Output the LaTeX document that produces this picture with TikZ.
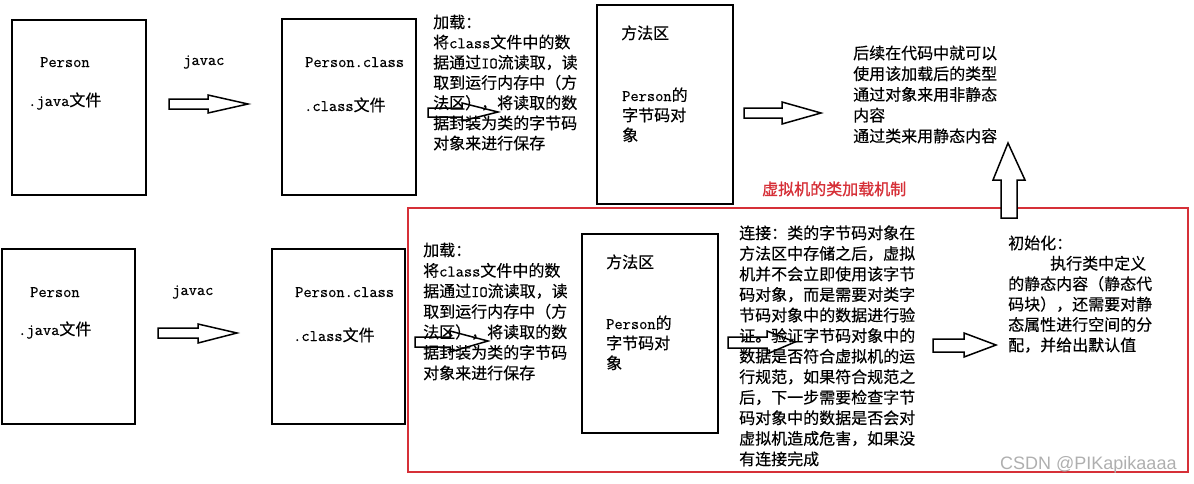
\documentclass[tikz,border=0pt]{standalone}
\usepackage{fontspec}
\newfontfamily\cjk[FakeBold=0.35]{Noto Sans CJK SC}
\newfontfamily\cjkbold[FakeBold=1.2]{Noto Sans CJK SC}
\newfontfamily\latf[FakeBold=0.6]{Latin Modern Mono}
\newfontfamily\wmfont{Liberation Sans}
\newcommand\mylat[1]{{\latf #1}}
\definecolor{redbox}{RGB}{214,48,56}
\definecolor{wmgray}{RGB}{175,175,175}
\begin{document}
\begin{tikzpicture}[x=1pt,y=-1pt,
  box/.style={draw=black,line width=2pt,inner sep=0pt},
  txt/.style={anchor=base west,inner sep=0pt,align=left,font=\cjk\fontsize{16}{20.5}\selectfont},
  barrow/.style={draw=black,line width=1.5pt,fill=white,line join=miter}]
\useasboundingbox (0,0) rectangle (1194,483);
% red frame
\node[draw=redbox,line width=1.6pt,minimum width=780,minimum height=264,inner sep=0pt] (frame) at (798,340) {};
% ---------- top row ----------
\node[box,minimum width=134,minimum height=175] (javaA) at (79,107.5) {};
\node[txt] (javaA1) at (40,67) {\mylat{Person}};
\node[txt] (javaA2) at (28,106) {\mylat{.java}文件};
\node[txt] (javacA) at (183,65) {\mylat{javac}};
\draw[barrow] (169,99) -- (208,99) -- (208,95) -- (248,104) -- (208,113) -- (208,109) -- (169,109) -- cycle;
\node[box,minimum width=134,minimum height=176] (classA) at (349,107) {};
\node[txt] (classA1) at (305,67) {\mylat{Person.class}};
\node[txt] (classA2) at (304,111) {\mylat{.class}文件};
\draw[barrow] (428,108) -- (462,108) -- (462,103) -- (498,112) -- (462,121) -- (462,117) -- (428,117) -- cycle;
\node[txt,font=\cjk\fontsize{16}{20.2}\selectfont] (loadA) at (433,149.2) {加载：\\将\mylat{class}文件中的数\\据通过\mylat{IO}流读取，读\\取到运行内存中（方\\法区），将读取的数\\据封装为类的字节码\\对象来进行保存};
\node[box,minimum width=136,minimum height=199] (methA) at (665,104.5) {};
\node[txt] (methA1) at (621,39) {方法区};
\node[txt,font=\cjk\fontsize{16}{20}\selectfont] (methA2) at (622,141) {\mylat{Person}的\\字节码对\\象};
\draw[barrow] (744,108) -- (782,108) -- (782,102) -- (821,113) -- (782,124) -- (782,118) -- (744,118) -- cycle;
\node[txt,font=\cjk\fontsize{16}{20.75}\selectfont] (useA) at (853,142) {后续在代码中就可以\\使用该加载后的类型\\通过对象来用非静态\\内容\\通过类来用静态内容};
\draw[barrow] (1001,218) -- (1001,180) -- (993,180) -- (1008,143) -- (1025,180) -- (1017,180) -- (1017,218) -- cycle;
\node[txt,text=redbox,font=\cjkbold\fontsize{16}{20}\selectfont] (title) at (762,195) {虚拟机的类加载机制};
% ---------- bottom row ----------
\node[box,minimum width=133,minimum height=175] (javaB) at (68.5,336.5) {};
\node[txt] (javaB1) at (30,297) {\mylat{Person}};
\node[txt] (javaB2) at (18,335) {\mylat{.java}文件};
\node[txt] (javacB) at (172,295) {\mylat{javac}};
\draw[barrow] (158,328) -- (198,328) -- (198,324) -- (237,333) -- (198,343) -- (198,338) -- (158,338) -- cycle;
\node[box,minimum width=133,minimum height=175] (classB) at (338.5,336.5) {};
\node[txt] (classB1) at (295,297) {\mylat{Person.class}};
\node[txt] (classB2) at (293,341) {\mylat{.class}文件};
\draw[barrow] (415,337) -- (450,337) -- (450,331) -- (488,341) -- (450,352) -- (450,347) -- (415,347) -- cycle;
\node[txt] (loadB) at (423,379) {加载：\\将\mylat{class}文件中的数\\据通过\mylat{IO}流读取，读\\取到运行内存中（方\\法区），将读取的数\\据封装为类的字节码\\对象来进行保存};
\node[box,minimum width=136,minimum height=199] (methB) at (650,333.5) {};
\node[txt] (methB1) at (606,268) {方法区};
\node[txt,font=\cjk\fontsize{16}{20}\selectfont] (methB2) at (606,369) {\mylat{Person}的\\字节码对\\象};
\draw[barrow] (728,337) -- (767,337) -- (767,331) -- (795,342) -- (767,354) -- (767,348) -- (728,348) -- cycle;
\node[txt,font=\cjk\fontsize{16}{20.55}\selectfont] (linkB) at (739,465) {连接：类的字节码对象在\\方法区中存储之后，虚拟\\机并不会立即使用该字节\\码对象，而是需要对类字\\节码对象中的数据进行验\\证。验证字节码对象中的\\数据是否符合虚拟机的运\\行规范，如果符合规范之\\后，下一步需要检查字节\\码对象中的数据是否会对\\虚拟机造成危害，如果没\\有连接完成};
\draw[barrow] (933,339) -- (964,339) -- (964,333) -- (996,345) -- (964,357) -- (964,352) -- (933,352) -- cycle;
\node[txt,font=\cjk\fontsize{16}{20.4}\selectfont] (initB) at (1008,351) {初始化：\\\hspace*{42pt}执行类中定义\\的静态内容（静态代\\码块），还需要对静\\态属性进行空间的分\\配，并给出默认值};
\node[anchor=base west,inner sep=0pt,text=wmgray,font=\wmfont\fontsize{18}{20}\selectfont] (wm) at (1000,469) {CSDN @PIKapikaaaa};
\end{tikzpicture}
\end{document}
